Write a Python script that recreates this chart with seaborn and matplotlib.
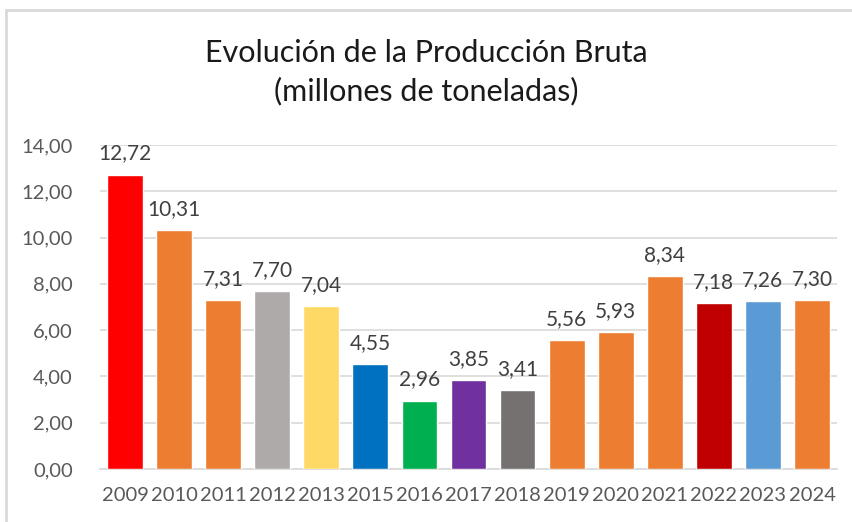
import matplotlib
matplotlib.use("Agg")
import matplotlib.pyplot as plt
import seaborn as sns
import pandas as pd
from matplotlib.lines import Line2D

years = ["2009", "2010", "2011", "2012", "2013", "2015", "2016", "2017",
         "2018", "2019", "2020", "2021", "2022", "2023", "2024"]
values = [12.72, 10.31, 7.31, 7.70, 7.04, 4.55, 2.96, 3.85,
          3.41, 5.56, 5.93, 8.34, 7.18, 7.26, 7.30]
colors = ["#FF0000", "#ED7D31", "#ED7D31", "#AEAAAA", "#FFD966", "#0070C0",
          "#00B050", "#7030A0", "#767171", "#ED7D31", "#ED7D31", "#ED7D31",
          "#C00000", "#5B9BD5", "#ED7D31"]
yticks = [0, 2, 4, 6, 8, 10, 12, 14]
title = "Evolución de la Producción Bruta\n(millones de toneladas)"

sns.set_style("white")
plt.rcParams["font.family"] = ["Lato", "DejaVu Sans"]

df = pd.DataFrame({"year": years, "value": values})

fig = plt.figure(figsize=(8.53, 5.22), dpi=100)
ax = fig.add_axes([0.1178, 0.1015, 0.8629, 0.6207])

sns.barplot(data=df, x="year", y="value", hue="year", palette=colors,
            order=years, hue_order=years, legend=False, width=0.73,
            saturation=1, ax=ax, zorder=3)

ax.set_ylim(0, 14)
ax.set_xlim(-0.5, len(years) - 0.5)
ax.set_yticks(yticks)
ax.set_yticklabels([f"{v:.2f}".replace(".", ",") for v in yticks])
ax.yaxis.grid(True, color="#D9D9D9", linewidth=1.2, zorder=0)
ax.set_axisbelow(True)
for s in ["top", "right", "left"]:
    ax.spines[s].set_visible(False)
ax.spines["bottom"].set_color("#D9D9D9")
ax.spines["bottom"].set_linewidth(1.2)
ax.tick_params(axis="both", length=0, labelsize=14.5, colors="#595959")
ax.tick_params(axis="x", pad=13)
ax.tick_params(axis="y", pad=20)
ax.set_xlabel("")
ax.set_ylabel("")

for i, v in enumerate(values):
    ax.annotate(f"{v:.2f}".replace(".", ","), (i, v), xytext=(0, 8),
                textcoords="offset points", ha="center", va="bottom",
                fontsize=15, color="#404040")

fig.text(0.5, 0.862, title, ha="center", va="center", fontsize=22,
         color="#1a1a1a", linespacing=1.4)

fig.add_artist(Line2D([6/853, 6/853], [0, 1 - 10/522], color="#D9D9D9",
                      linewidth=2, transform=fig.transFigure))
fig.add_artist(Line2D([6/853, 1], [1 - 10/522, 1 - 10/522], color="#D9D9D9",
                      linewidth=2, transform=fig.transFigure))

fig.savefig("out.png", dpi=100)
